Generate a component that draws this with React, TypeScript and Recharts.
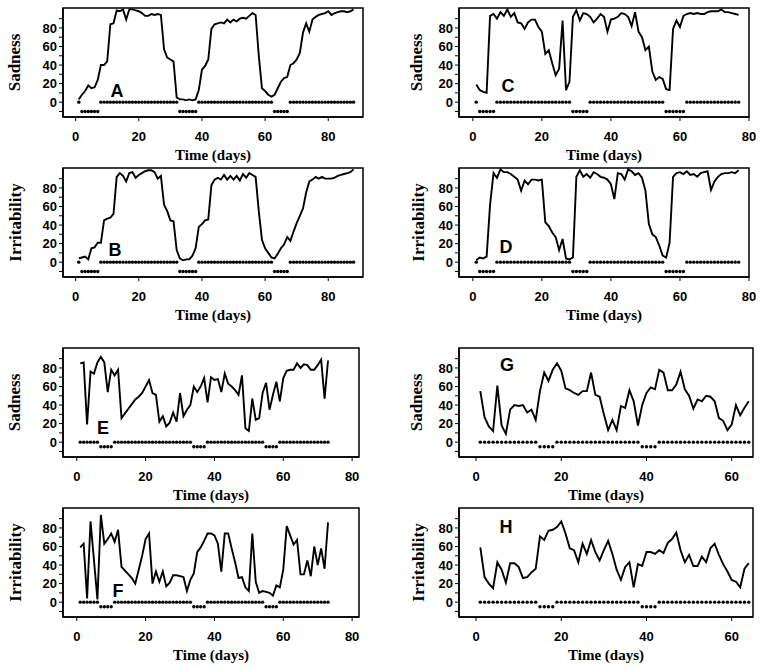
import { LineChart, Line, XAxis, YAxis, ReferenceArea } from "recharts";

// mood ratings, one value per day starting at day 1
const sadnessA = [
  3, 8, 12, 18, 15, 16, 24, 40, 40, 44, 84, 85, 99, 98, 100, 89, 100, 100, 99, 98,
  96, 93, 93, 95, 94, 95, 94, 57, 48, 46, 44, 5, 3, 3, 2, 3, 2, 3, 13, 35,
  39, 46, 79, 84, 85, 86, 85, 89, 86, 89, 87, 90, 91, 90, 93, 96, 94, 50, 15, 12,
  8, 6, 8, 15, 22, 26, 27, 40, 42, 46, 53, 75, 85, 76, 89, 92, 94, 95, 96, 98,
  94, 96, 97, 98, 98, 97, 98, 100,
];
const irritabilityB = [
  4, 5, 6, 3, 15, 16, 21, 21, 45, 47, 48, 52, 92, 96, 93, 87, 96, 97, 91, 94,
  96, 98, 99, 99, 97, 90, 93, 62, 55, 45, 44, 13, 4, 2, 3, 3, 7, 15, 38, 41,
  45, 46, 83, 89, 91, 89, 94, 89, 93, 89, 93, 88, 95, 91, 96, 94, 92, 55, 24, 15,
  10, 5, 4, 9, 15, 19, 27, 23, 33, 42, 50, 58, 75, 87, 89, 92, 90, 92, 90, 90,
  90, 91, 93, 94, 95, 96, 97, 100,
];
const sadnessC = [
  19, 13, 11, 10, 93, 95, 90, 97, 93, 100, 92, 96, 86, 85, 79, 86, 89, 89, 81, 76,
  52, 56, 42, 29, 36, 88, 13, 22, 92, 99, 88, 96, 95, 92, 86, 90, 95, 92, 76, 89,
  90, 92, 96, 95, 92, 82, 97, 76, 70, 56, 60, 33, 24, 27, 25, 14, 13, 79, 88, 81,
  93, 95, 96, 95, 96, 95, 95, 97, 98, 98, 98, 100, 97, 97, 96, 95, 94,
];
const irritabilityD = [
  2, 5, 4, 6, 62, 96, 91, 100, 97, 97, 95, 92, 89, 77, 88, 84, 89, 89, 88, 89,
  43, 39, 32, 27, 13, 25, 4, 3, 5, 92, 99, 92, 95, 91, 97, 95, 92, 91, 89, 84,
  68, 96, 95, 89, 100, 98, 94, 96, 91, 77, 41, 30, 27, 18, 7, 5, 21, 92, 96, 97,
  95, 98, 94, 95, 92, 96, 97, 98, 78, 87, 92, 95, 96, 96, 97, 96, 99,
];
const sadnessE = [
  85, 86, 19, 76, 74, 86, 92, 86, 54, 78, 72, 78, 26, 31, 36, 41, 46, 49, 53, 60,
  67, 53, 51, 22, 28, 17, 21, 32, 22, 53, 28, 35, 40, 60, 54, 60, 69, 43, 70, 67,
  68, 54, 74, 63, 60, 56, 51, 72, 15, 12, 47, 24, 26, 53, 64, 35, 51, 65, 44, 69,
  77, 78, 78, 85, 80, 84, 83, 78, 78, 83, 89, 47, 88,
];
const irritabilityF = [
  59, 63, 4, 87, 45, 3, 94, 63, 68, 74, 65, 78, 38, 34, 30, 26, 20, 35, 50, 68,
  74, 20, 33, 22, 33, 17, 21, 29, 29, 28, 27, 12, 24, 31, 54, 59, 66, 74, 74, 72,
  63, 33, 74, 74, 58, 43, 26, 27, 16, 12, 74, 22, 10, 12, 11, 10, 7, 18, 16, 35,
  82, 72, 62, 67, 30, 30, 45, 28, 60, 40, 58, 36, 86,
];
const sadnessG = [
  55, 27, 17, 12, 61, 18, 9, 35, 40, 39, 40, 32, 35, 24, 55, 75, 66, 78, 85, 77,
  58, 56, 53, 51, 55, 55, 75, 51, 49, 30, 13, 24, 13, 39, 37, 56, 44, 18, 40, 53,
  59, 57, 78, 75, 56, 56, 62, 76, 57, 50, 36, 46, 44, 50, 49, 44, 26, 23, 13, 19,
  40, 29, 37, 44,
];
const irritabilityH = [
  59, 27, 20, 15, 43, 35, 21, 42, 42, 38, 26, 27, 32, 36, 71, 67, 77, 78, 81, 87,
  74, 58, 56, 43, 63, 52, 67, 54, 45, 56, 66, 52, 35, 24, 38, 43, 16, 41, 39, 54,
  54, 52, 56, 53, 64, 68, 75, 56, 43, 51, 39, 39, 49, 43, 58, 63, 51, 41, 33, 24,
  22, 16, 36, 42,
];

// phase markers: 0 = upper row of dots, negative = lower row
const phaseAB = [
  0, -10, -10, -10, -10, -10, -10, 0, 0, 0, 0, 0, 0, 0, 0, 0, 0, 0, 0, 0,
  0, 0, 0, 0, 0, 0, 0, 0, 0, 0, 0, 0, -10, -10, -10, -10, -10, -10, 0, 0,
  0, 0, 0, 0, 0, 0, 0, 0, 0, 0, 0, 0, 0, 0, 0, 0, 0, 0, 0, 0,
  0, 0, -10, -10, -10, -10, -10, 0, 0, 0, 0, 0, 0, 0, 0, 0, 0, 0, 0, 0,
  0, 0, 0, 0, 0, 0, 0, 0,
];
const phaseCD = [
  0, -10, -10, -10, -10, -10, 0, 0, 0, 0, 0, 0, 0, 0, 0, 0, 0, 0, 0, 0,
  0, 0, 0, 0, 0, 0, 0, 0, -10, -10, -10, -10, -10, 0, 0, 0, 0, 0, 0, 0,
  0, 0, 0, 0, 0, 0, 0, 0, 0, 0, 0, 0, 0, 0, 0, -10, -10, -10, -10, -10,
  -10, 0, 0, 0, 0, 0, 0, 0, 0, 0, 0, 0, 0, 0, 0, 0, 0,
];
const phaseEF = [
  0, 0, 0, 0, 0, 0, -5, -5, -5, -5, 0, 0, 0, 0, 0, 0, 0, 0, 0, 0,
  0, 0, 0, 0, 0, 0, 0, 0, 0, 0, 0, 0, 0, -5, -5, -5, -5, 0, 0, 0,
  0, 0, 0, 0, 0, 0, 0, 0, 0, 0, 0, 0, 0, 0, -5, -5, -5, -5, 0, 0,
  0, 0, 0, 0, 0, 0, 0, 0, 0, 0, 0, 0, 0,
];
const phaseGH = [
  0, 0, 0, 0, 0, 0, 0, 0, 0, 0, 0, 0, 0, 0, -5, -5, -5, -5, 0, 0,
  0, 0, 0, 0, 0, 0, 0, 0, 0, 0, 0, 0, 0, 0, 0, 0, 0, 0, -5, -5,
  -5, -5, 0, 0, 0, 0, 0, 0, 0, 0, 0, 0, 0, 0, 0, 0, 0, 0, 0, 0,
  0, 0, 0, 0,
];

const xTicksLong = [0, 20, 40, 60, 80];
const xTicksShort = [0, 20, 40, 60];
const yTicks = [-10, 0, 10, 20, 30, 40, 50, 60, 70, 80, 90];
const yLabelled = [0, 20, 40, 60, 80];

const SANS = '"Liberation Sans", Arial, Helvetica, sans-serif';
const SERIF = '"Liberation Serif", "Times New Roman", Times, serif';
const Y_MIN = -16;
const Y_MAX = 101.5;
const PLOT_H = 109;
const X_AXIS_H = 43;

const toRows = (mood: number[], phase: number[]) =>
  mood.map((v, i) => ({ day: i + 1, mood: v, phase: phase[i] }));

interface PanelProps {
  letter: string;
  yLabel: string;
  mood: number[];
  phase: number[];
  xMax: number;
  xTicks: number[];
  left: number;
  top: number;
  plotW: number;
  yAxisW: number;
  labelX: number;
  letterX: number;
  letterY: number;
}

function Panel(p: PanelProps) {
  const rows = toRows(p.mood, p.phase);
  const width = p.yAxisW + p.plotW + 8;
  const height = 4 + PLOT_H + X_AXIS_H + 6;
  return (
    <>
      <div style={{ position: "absolute", left: p.left, top: p.top - 4 }}>
        <LineChart
          width={width}
          height={height}
          data={rows}
          margin={{ top: 4, right: 8, bottom: 6, left: 0 }}
        >
          <XAxis
            type="number"
            dataKey="day"
            domain={[-4, p.xMax]}
            ticks={p.xTicks}
            interval={0}
            allowDataOverflow
            height={X_AXIS_H}
            tickSize={4}
            tickMargin={11}
            axisLine={{ stroke: "#000", strokeWidth: 1.5 }}
            tickLine={{ stroke: "#000" }}
            tick={{ fill: "#000", fontSize: 13, fontWeight: "bold", fontFamily: SANS }}
            label={{
              value: "Time (days)",
              position: "insideBottom",
              offset: 0,
              style: { fill: "#000", fontSize: 15, fontWeight: "bold", fontFamily: SERIF },
            }}
          />
          <YAxis
            type="number"
            domain={[Y_MIN, Y_MAX]}
            ticks={yTicks}
            interval={0}
            allowDataOverflow
            width={p.yAxisW}
            tickSize={4}
            tickMargin={2}
            tickFormatter={(v: number) => (yLabelled.includes(v) ? String(v) : "")}
            axisLine={{ stroke: "#000", strokeWidth: 1.5 }}
            tickLine={{ stroke: "#000" }}
            tick={{ fill: "#000", fontSize: 13, fontWeight: "bold", fontFamily: SANS }}
            label={{
              value: p.yLabel,
              angle: -90,
              position: "insideLeft",
              offset: p.labelX,
              style: {
                fill: "#000",
                fontSize: 17,
                fontWeight: "bold",
                fontFamily: SERIF,
                textAnchor: "middle",
              },
            }}
          />
          <ReferenceArea
            x1={-4}
            x2={p.xMax}
            y1={Y_MIN}
            y2={Y_MAX}
            fill="none"
            stroke="#000"
            strokeWidth={1.5}
          />
          <Line
            dataKey="phase"
            stroke="none"
            dot={{ r: 1.7, fill: "#000", stroke: "none" }}
            isAnimationActive={false}
          />
          <Line
            dataKey="mood"
            type="linear"
            stroke="#000"
            strokeWidth={1.9}
            dot={false}
            isAnimationActive={false}
          />
        </LineChart>
      </div>
      <div
        style={{
          position: "absolute",
          left: p.letterX,
          top: p.letterY,
          transform: "translate(-50%, -50%)",
          fontFamily: SANS,
          fontWeight: "bold",
          fontSize: 18,
          lineHeight: 1,
          color: "#000",
        }}
      >
        {p.letter}
      </div>
    </>
  );
}

export default function App() {
  return (
    <div
      style={{
        position: "absolute",
        left: 0,
        top: 0,
        width: 762,
        height: 668,
        background: "#fff",
      }}
    >
      <Panel letter="A" yLabel="Sadness" mood={sadnessA} phase={phaseAB} xMax={91} xTicks={xTicksLong}
        left={0} top={8} plotW={300} yAxisW={63} labelX={14} letterX={117} letterY={91} />
      <Panel letter="B" yLabel="Irritability" mood={irritabilityB} phase={phaseAB} xMax={91} xTicks={xTicksLong}
        left={0} top={168} plotW={300} yAxisW={63} labelX={15} letterX={115} letterY={250} />
      <Panel letter="C" yLabel="Sadness" mood={sadnessC} phase={phaseCD} xMax={80} xTicks={xTicksLong}
        left={381} top={8} plotW={290} yAxisW={78} labelX={35} letterX={508} letterY={86} />
      <Panel letter="D" yLabel="Irritability" mood={irritabilityD} phase={phaseCD} xMax={80} xTicks={xTicksLong}
        left={381} top={168} plotW={290} yAxisW={78} labelX={37} letterX={506} letterY={247} />
      <Panel letter="E" yLabel="Sadness" mood={sadnessE} phase={phaseEF} xMax={82} xTicks={xTicksLong}
        left={0} top={348} plotW={296} yAxisW={63} labelX={14} letterX={103} letterY={428} />
      <Panel letter="F" yLabel="Irritability" mood={irritabilityF} phase={phaseEF} xMax={82} xTicks={xTicksLong}
        left={0} top={508} plotW={296} yAxisW={63} labelX={15} letterX={118} letterY={591} />
      <Panel letter="G" yLabel="Sadness" mood={sadnessG} phase={phaseGH} xMax={65} xTicks={xTicksShort}
        left={381} top={348} plotW={294} yAxisW={78} labelX={35} letterX={507} letterY={365} />
      <Panel letter="H" yLabel="Irritability" mood={irritabilityH} phase={phaseGH} xMax={65} xTicks={xTicksShort}
        left={381} top={508} plotW={294} yAxisW={78} labelX={37} letterX={506} letterY={527} />
    </div>
  );
}
